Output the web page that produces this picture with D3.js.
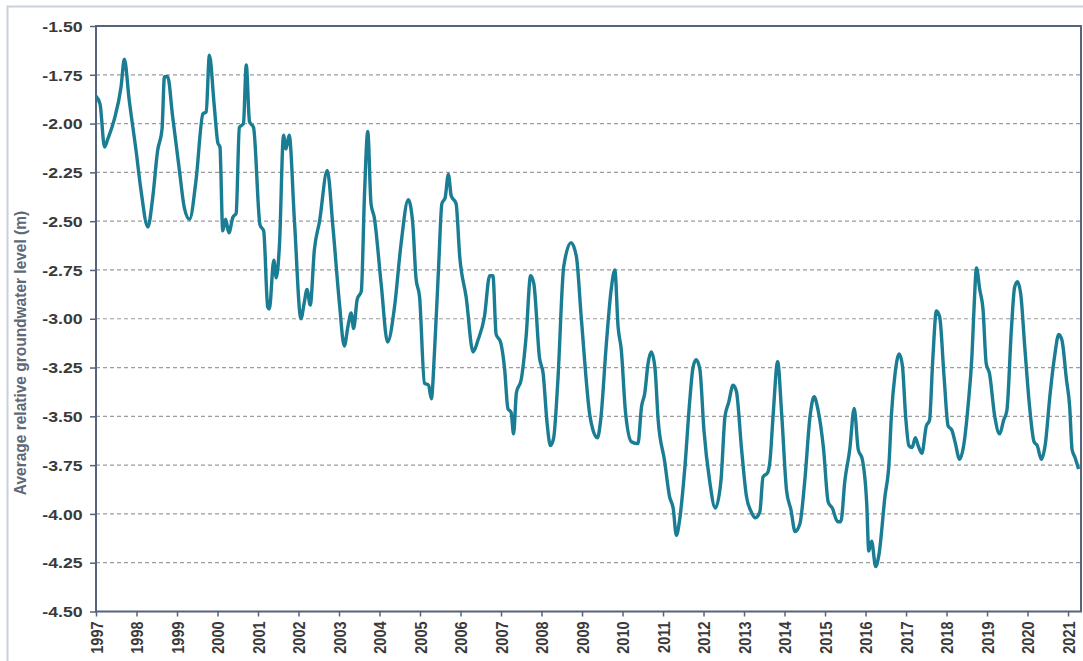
<!DOCTYPE html>
<html>
<head>
<meta charset="utf-8">
<script src="https://cdn.jsdelivr.net/npm/d3@7"></script>
<style>
  body { margin: 0; background: #fff; }
  svg { display: block; font-family: "Liberation Sans", Arial, sans-serif; }
</style>
</head>
<body>
<svg id="chart"></svg>
<script>
var screen = {width:1083, height:661}
var margins = {top:26, right:2, bottom:49.5, left:96}

// decimal year of each reading
var years = [
  1997.00,1997.10,1997.21,1997.29,1997.45,1997.62,1997.70,1997.82,1997.99,
  1998.11,1998.28,1998.40,1998.52,1998.63,1998.69,1998.77,1998.89,
  1999.06,1999.18,1999.31,1999.47,1999.64,1999.72,1999.80,1999.92,
  2000.01,2000.06,2000.13,2000.20,2000.28,2000.38,2000.46,2000.54,2000.64,2000.71,2000.79,2000.89,
  2001.05,2001.14,2001.24,2001.28,2001.39,2001.45,2001.53,2001.63,2001.69,2001.77,2001.90,
  2002.06,2002.14,2002.21,2002.29,2002.39,2002.52,2002.71,2002.85,
  2003.01,2003.13,2003.22,2003.30,2003.36,2003.45,2003.55,2003.63,2003.71,2003.79,2003.87,
  2004.04,2004.20,2004.37,2004.53,2004.71,2004.82,2004.90,2004.99,
  2005.11,2005.21,2005.28,2005.36,2005.46,2005.54,2005.62,2005.70,2005.77,2005.89,2005.98,
  2006.14,2006.31,2006.43,2006.59,2006.72,2006.80,2006.88,2006.99,
  2007.09,2007.17,2007.25,2007.31,2007.38,2007.50,2007.62,2007.73,2007.81,2007.95,
  2008.04,2008.14,2008.22,2008.30,2008.40,2008.55,2008.73,2008.86,2008.98,
  2009.19,2009.27,2009.38,2009.46,2009.60,2009.72,2009.81,2009.89,2009.97,
  2010.07,2010.22,2010.38,2010.47,2010.55,2010.63,2010.71,2010.80,2010.88,
  2011.04,2011.16,2011.25,2011.33,2011.41,2011.54,2011.66,2011.74,2011.82,2011.91,
  2012.01,2012.15,2012.29,2012.43,2012.53,2012.62,2012.73,2012.81,2012.94,
  2013.06,2013.18,2013.28,2013.39,2013.47,2013.58,2013.64,2013.72,2013.83,2013.93,
  2014.05,2014.16,2014.26,2014.38,2014.50,2014.63,2014.73,2014.83,2014.96,
  2015.08,2015.18,2015.31,2015.39,2015.49,2015.61,2015.72,2015.82,2015.92,
  2016.03,2016.08,2016.15,2016.25,2016.33,2016.48,2016.58,2016.64,2016.73,2016.83,2016.91,2016.99,
  2017.07,2017.15,2017.23,2017.30,2017.39,2017.50,2017.58,2017.66,2017.75,2017.83,2017.94,
  2018.04,2018.13,2018.22,2018.32,2018.43,2018.53,2018.63,2018.68,2018.74,2018.82,2018.90,2018.98,
  2019.06,2019.19,2019.31,2019.41,2019.49,2019.60,2019.68,2019.75,2019.83,2019.93,
  2020.05,2020.16,2020.24,2020.34,2020.44,2020.55,2020.67,2020.77,2020.85,2020.96,
  2021.04,2021.10,2021.17,2021.26
]

// average relative groundwater level (m)
var levels = [
  -1.86,-1.90,-2.12,-2.08,-1.98,-1.81,-1.67,-1.88,-2.14,
  -2.34,-2.53,-2.38,-2.14,-2.03,-1.76,-1.76,-1.96,
  -2.24,-2.43,-2.49,-2.29,-1.95,-1.94,-1.65,-1.91,
  -2.10,-2.12,-2.55,-2.49,-2.56,-2.48,-2.46,-2.02,-2.00,-1.70,-1.99,-2.02,
  -2.52,-2.55,-2.94,-2.95,-2.70,-2.79,-2.62,-2.06,-2.13,-2.06,-2.50,
  -3.00,-2.92,-2.85,-2.93,-2.65,-2.50,-2.24,-2.53,
  -2.92,-3.14,-3.04,-2.97,-3.05,-2.90,-2.86,-2.36,-2.04,-2.41,-2.48,
  -2.82,-3.12,-2.94,-2.62,-2.39,-2.51,-2.79,-2.89,
  -3.33,-3.34,-3.41,-3.16,-2.73,-2.41,-2.38,-2.26,-2.37,-2.41,-2.68,
  -2.89,-3.17,-3.11,-2.99,-2.78,-2.78,-3.08,-3.12,
  -3.26,-3.46,-3.48,-3.59,-3.38,-3.31,-3.09,-2.78,-2.82,-3.20,
  -3.28,-3.54,-3.65,-3.61,-3.33,-2.73,-2.61,-2.68,-2.99,
  -3.49,-3.57,-3.61,-3.52,-3.13,-2.85,-2.75,-3.04,-3.16,
  -3.47,-3.63,-3.64,-3.45,-3.38,-3.23,-3.17,-3.25,-3.52,
  -3.73,-3.91,-3.97,-4.11,-4.03,-3.76,-3.42,-3.25,-3.21,-3.26,
  -3.57,-3.83,-3.97,-3.83,-3.50,-3.43,-3.34,-3.37,-3.67,
  -3.91,-3.99,-4.02,-3.99,-3.81,-3.79,-3.73,-3.49,-3.22,-3.49,
  -3.88,-3.98,-4.09,-4.05,-3.83,-3.50,-3.40,-3.47,-3.66,
  -3.94,-3.97,-4.04,-4.04,-3.83,-3.67,-3.46,-3.67,-3.72,
  -3.95,-4.19,-4.14,-4.27,-4.21,-3.91,-3.74,-3.49,-3.28,-3.18,-3.24,-3.50,
  -3.65,-3.66,-3.61,-3.65,-3.69,-3.55,-3.52,-3.21,-2.96,-2.99,-3.30,
  -3.55,-3.57,-3.64,-3.72,-3.64,-3.45,-3.18,-2.94,-2.74,-2.85,-2.95,-3.23,
  -3.28,-3.50,-3.59,-3.52,-3.47,-3.06,-2.84,-2.81,-2.87,-3.14,
  -3.45,-3.63,-3.65,-3.72,-3.64,-3.40,-3.19,-3.08,-3.11,-3.31,
  -3.45,-3.67,-3.71,-3.77
]

var yTicks = [-1.50,-1.75,-2.00,-2.25,-2.50,-2.75,-3.00,-3.25,-3.50,-3.75,-4.00,-4.25,-4.50]
var gridLevels = [-1.75,-2.00,-2.25,-2.50,-2.75,-3.00,-3.25,-3.50,-3.75,-4.00,-4.25]
var xTickYears = d3.range(1997, 2022)
var yTitle = "Average relative groundwater level (m)"

var svg = d3.select("#chart")
  .attr("width", screen.width)
  .attr("height", screen.height)

var width = screen.width - margins.left - margins.right
var height = screen.height - margins.top - margins.bottom

// light outer frame
svg.append("rect")
  .attr("x", 7.5).attr("y", 6.5)
  .attr("width", 1100).attr("height", 680)
  .attr("fill", "none")
  .attr("stroke", "#c9d0da")
  .attr("stroke-width", 2)

var graph = svg.append("g")
  .attr("id", "graph")
  .attr("transform", "translate(" + margins.left + "," + margins.top + ")")

var xScale = d3.scaleLinear()
  .domain([1997, 2021.32])
  .range([0, width])

var yScale = d3.scaleLinear()
  .domain([-4.5, -1.5])
  .range([height, 0])

// dashed gridlines
graph.append("g")
  .selectAll("line")
  .data(gridLevels)
  .enter()
  .append("line")
  .attr("x1", 0).attr("x2", width)
  .attr("y1", function(d){ return yScale(d) })
  .attr("y2", function(d){ return yScale(d) })
  .attr("stroke", "#9c9c9c")
  .attr("stroke-width", 1.2)
  .attr("stroke-dasharray", "4,3")

// axes
var yAxis = d3.axisLeft(yScale)
  .tickValues(yTicks)
  .tickSize(6)
  .tickFormat(function(d){ return d.toFixed(2) })

var xAxis = d3.axisBottom(xScale)
  .tickValues(xTickYears)
  .tickSize(5)
  .tickFormat(function(d){ return String(d) })

var yG = graph.append("g").attr("id", "yAxis").call(yAxis)
var xG = graph.append("g").attr("id", "xAxis")
  .attr("transform", "translate(0," + height + ")")
  .call(xAxis)

yG.select(".domain").remove()
xG.select(".domain").remove()

graph.selectAll(".tick line").attr("stroke", "#55637b").attr("stroke-width", 1.5)

yG.selectAll("text")
  .attr("x", -11)
  .attr("dy", "0.36em")
  .attr("transform", "scale(1.22,1)")
  .style("font-size", "14.5px")
  .style("font-weight", "bold")
  .attr("fill", "#3a3a3a")

xG.selectAll("text")
  .attr("x", 0).attr("y", 0)
  .attr("dy", "0.36em")
  .attr("text-anchor", "end")
  .attr("transform", "translate(0,10) scale(1.18,1) rotate(-90)")
  .style("font-size", "14.5px")
  .style("font-weight", "bold")
  .attr("fill", "#3a3a3a")

// plot border
graph.append("rect")
  .attr("width", width).attr("height", height)
  .attr("fill", "none")
  .attr("stroke", "#55637b")
  .attr("stroke-width", 2)

// the series
var line = d3.line()
  .x(function(d){ return xScale(d[0]) })
  .y(function(d){ return yScale(d[1]) })
  .curve(d3.curveMonotoneX)

graph.append("path")
  .datum(d3.zip(years, levels))
  .attr("d", line)
  .attr("fill", "none")
  .attr("stroke", "#1a7d93")
  .attr("stroke-width", 3.4)
  .attr("stroke-linejoin", "round")

// y title
svg.append("text")
  .attr("transform", "translate(26,353) scale(1.1,1) rotate(-90)")
  .attr("text-anchor", "middle")
  .style("font-size", "15.5px")
  .style("font-weight", "bold")
  .attr("fill", "#5f6877")
  .text(yTitle)
</script>
</body>
</html>
